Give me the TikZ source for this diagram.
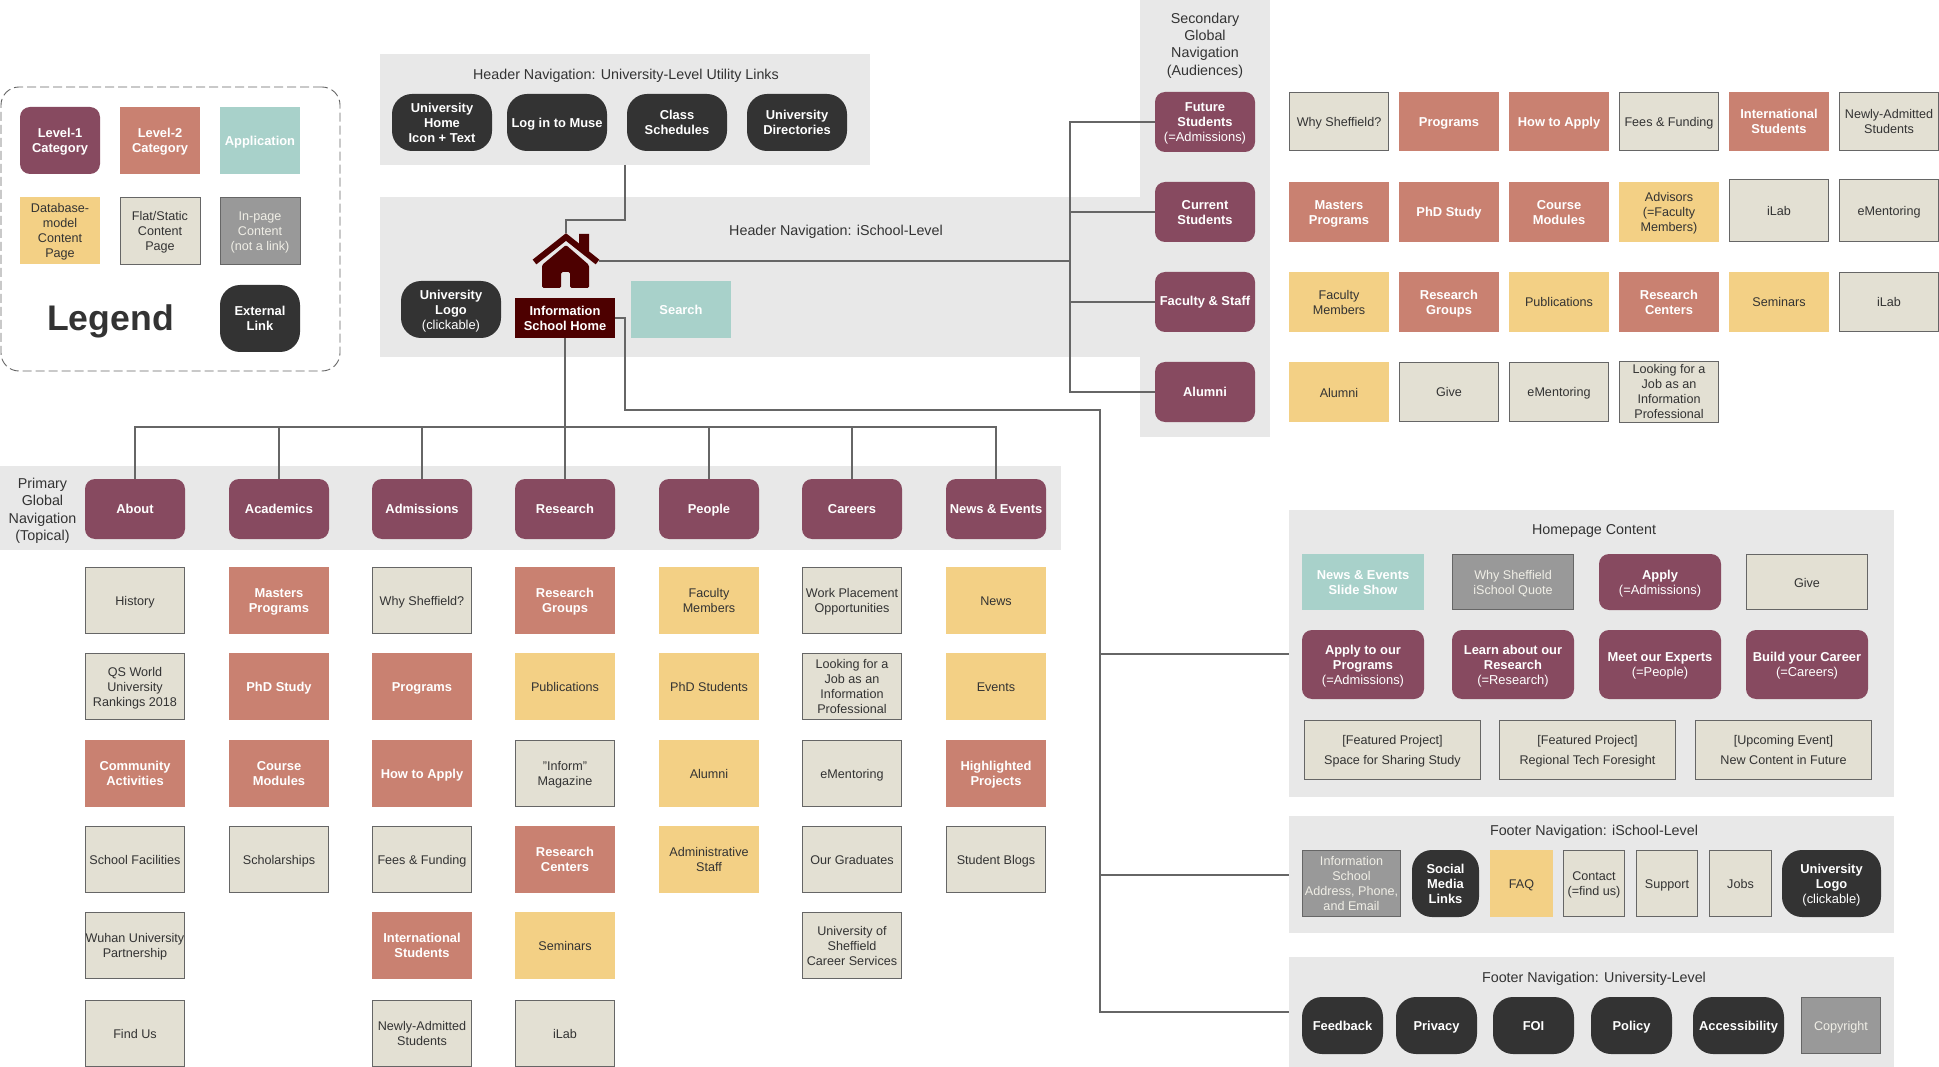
\documentclass[tikz,border=0pt]{standalone}
\usepackage{fontspec}
\setmainfont{Liberation Sans}
\definecolor{cLone}{HTML}{874A60}
\definecolor{cLtwo}{HTML}{C98171}
\definecolor{cApp}{HTML}{A8D1CA}
\definecolor{cDb}{HTML}{F3D085}
\definecolor{cFlat}{HTML}{E3E0D3}
\definecolor{cGrey}{HTML}{999999}
\definecolor{cDark}{HTML}{333333}
\definecolor{cPanel}{HTML}{E8E8E8}
\definecolor{cLine}{HTML}{666666}
\definecolor{cHome}{HTML}{4D0000}
\definecolor{cGreyText}{HTML}{F0EEE6}
\newif\ifmultiline
\def\singleh{13pt}
\tikzset{
  base/.style={inner sep=0pt,outer sep=0pt,align=center,font=\fontsize{12.6}{15}\selectfont,
    execute at begin node={\rule{0pt}{\singleh}},execute at end node={\rule[-3pt]{0pt}{3pt}}},
  panel/.style={base,fill=cPanel},
  lvlone/.style={base,fill=cLone,rounded corners=10pt,text=white,font=\fontsize{12.9}{15}\selectfont\bfseries,/utils/exec={\def\singleh{11pt}}},
  lvltwo/.style={base,fill=cLtwo,text=white,font=\fontsize{12.9}{15}\selectfont\bfseries},
  appn/.style={base,fill=cApp,text=white,font=\fontsize{12.9}{15}\selectfont\bfseries},
  dbm/.style={base,fill=cDb,text=cDark},
  flat/.style={base,fill=cFlat,draw=cLine,line width=0.9pt,text=cDark},
  inpage/.style={base,fill=cGrey,draw=cLine,line width=0.9pt,text=cGreyText},
  ext/.style={base,fill=cDark,rounded corners=20pt,text=white,font=\fontsize{12.9}{15}\selectfont\bfseries},
  homebox/.style={base,fill=cHome,text=white,font=\fontsize{12.9}{15}\selectfont\bfseries},
  title/.style={inner sep=0pt,outer sep=0pt,align=center,text=cDark,font=\fontsize{14.3}{17.4}\selectfont},
  conn/.style={draw=cLine,line width=2pt},
}
% name, style, x1, y1, x2, y2, text
\makeatletter
\newcommand{\bx}[7]{\in@{\\}{#7}\ifin@\global\multilinetrue\else\global\multilinefalse\fi
  \node[#2,minimum width={(#5-#3)*1pt},minimum height={(#6-#4)*1pt}] (#1) at ({(#3+#5)/2},{(#4+#6)/2}) {\ifmultiline\rule{0pt}{12.4pt}\fi #7};}
\makeatother
\newcommand{\md}[1]{{\mdseries #1}}
\begin{document}
\begin{tikzpicture}[x=1pt,y=-1pt]
\useasboundingbox (0,0) rectangle (1939,1067);
% panels
\bx{pUtil}{panel}{380}{54}{870}{165}{}
\bx{pSchool}{panel}{380}{197}{1140}{357}{}
\bx{pSec}{panel}{1140}{0}{1270}{437}{}
\bx{pPrim}{panel}{0}{466}{1061}{550}{}
\bx{pHome}{panel}{1289}{510}{1894}{797}{}
\bx{pFootS}{panel}{1289}{816}{1894}{933}{}
\bx{pFootU}{panel}{1289}{957}{1894}{1067}{}
% legend
\node[draw=cLine,dash pattern=on 9pt off 4pt,line width=0.9pt,rounded corners=18pt,minimum width=339pt,minimum height=284pt,inner sep=0pt] (legendbox) at (170.5,229) {};
\bx{lgA}{lvlone}{20}{107}{100}{174}{Level-1\\Category}
\bx{lgB}{lvltwo}{120}{107}{200}{174}{Level-2\\Category}
\bx{lgC}{appn}{220}{107}{300}{174}{Application}
\bx{lgD}{dbm}{20}{197}{100}{264}{Database-\\model\\Content\\Page}
\bx{lgE}{flat}{120}{197}{200}{264}{Flat/Static\\Content\\Page}
\bx{lgF}{inpage}{220}{197}{300}{264}{In-page\\Content\\(not a link)}
\bx{lgG}{ext}{220}{285}{300}{352}{External\\Link}
\node[inner sep=0pt,text=cDark,font=\fontsize{35.6}{40}\selectfont\bfseries] (legendtitle) at (110.5,321.5) {Legend};
% header utility
\node[title] (tUtil) at (626,75.5) {Header Navigation: University-Level Utility Links};
\bx{uHome}{ext}{392}{94}{492}{151}{University\\Home\\Icon + Text}
\bx{uMuse}{ext}{507}{94}{607}{151}{Log in to Muse}
\bx{uClass}{ext}{627}{94}{727}{151}{Class\\Schedules}
\bx{uDir}{ext}{747}{94}{847}{151}{University\\Directories}
% header school
\node[title] (tSchool) at (836,231.5) {Header Navigation: iSchool-Level};
\bx{sLogo}{ext}{401}{281}{501}{338}{University\\Logo\\\md{(clickable)}}
\bx{sHome}{homebox}{515}{298}{615}{338}{Information\\School Home}
\bx{sSearch}{appn}{631}{281}{731}{338}{Search}
% house
\fill[cHome] (579,234) -- (589,234) -- (589,256) -- (579,248) -- cycle;
\fill[cHome,rounded corners=1.5pt] (566,245) -- (589,265) -- (589,288) -- (570,288) -- (570,272) -- (561,272) -- (561,288) -- (542,288) -- (542,265) -- cycle;
\draw[cHome,line width=6pt,miter limit=4] (534.5,262) -- (566,237) -- (597.5,262);
\coordinate (housetop) at (566,233);
\coordinate (houseeave) at (599,261);
% secondary
\node[title] (tSec) at (1205,45.5) {Secondary\\Global\\Navigation\\(Audiences)};
\bx{future}{lvlone}{1155}{92}{1255}{152}{Future\\Students\\\md{(=Admissions)}}
\bx{current}{lvlone}{1155}{182}{1255}{242}{Current\\Students}
\bx{faculty}{lvlone}{1155}{272}{1255}{332}{Faculty \& Staff}
\bx{alumni}{lvlone}{1155}{362}{1255}{422}{Alumni}
% secondary grid
\bx{a1}{flat}{1289.5}{92.5}{1388.5}{150.5}{Why Sheffield?}
\bx{a2}{lvltwo}{1399}{92}{1499}{151}{Programs}
\bx{a3}{lvltwo}{1509}{92}{1609}{151}{How to Apply}
\bx{a4}{flat}{1619.5}{92.5}{1718.5}{150.5}{Fees \& Funding}
\bx{a5}{lvltwo}{1729}{92}{1829}{151}{International\\Students}
\bx{a6}{flat}{1839.5}{92.5}{1938.5}{150.5}{Newly-Admitted\\Students}
\bx{b1}{lvltwo}{1289}{182}{1389}{242}{Masters\\Programs}
\bx{b2}{lvltwo}{1399}{182}{1499}{242}{PhD Study}
\bx{b3}{lvltwo}{1509}{182}{1609}{242}{Course\\Modules}
\bx{b4}{dbm}{1619}{182}{1719}{242}{Advisors\\(=Faculty\\Members)}
\bx{b5}{flat}{1729.5}{179.5}{1828.5}{241}{iLab}
\bx{b6}{flat}{1839.5}{179.5}{1938.5}{241}{eMentoring}
\bx{c1}{dbm}{1289}{272}{1389}{332}{Faculty\\Members}
\bx{c2}{lvltwo}{1399}{272}{1499}{332}{Research\\Groups}
\bx{c3}{dbm}{1509}{272}{1609}{332}{Publications}
\bx{c4}{lvltwo}{1619}{272}{1719}{332}{Research\\Centers}
\bx{c5}{dbm}{1729}{272}{1829}{332}{Seminars}
\bx{c6}{flat}{1839.5}{272.5}{1938.5}{331}{iLab}
\bx{d1}{dbm}{1289}{362}{1389}{422}{Alumni}
\bx{d2}{flat}{1399.5}{362.5}{1498.5}{421}{Give}
\bx{d3}{flat}{1509.5}{362.5}{1608.5}{421}{eMentoring}
\bx{d4}{flat}{1619.5}{362.5}{1718.5}{421}{Looking for a\\Job as an\\Information\\Professional}
% primary
\node[title] (tPrim) at (42.5,511) {Primary\\Global\\Navigation\\(Topical)};
\bx{about}{lvlone}{85}{479}{185}{539}{About}
\bx{academics}{lvlone}{229}{479}{329}{539}{Academics}
\bx{admissions}{lvlone}{372}{479}{472}{539}{Admissions}
\bx{research}{lvlone}{515}{479}{615}{539}{Research}
\bx{people}{lvlone}{659}{479}{759}{539}{People}
\bx{careers}{lvlone}{802}{479}{902}{539}{Careers}
\bx{news}{lvlone}{946}{479}{1046}{539}{News \& Events}
% column 1
\bx{k11}{flat}{85.5}{567.5}{184.5}{633.5}{History}
\bx{k12}{flat}{85.5}{653.5}{184.5}{719.5}{QS World\\University\\Rankings 2018}
\bx{k13}{lvltwo}{85}{740}{185}{807}{Community\\Activities}
\bx{k14}{flat}{85.5}{826.5}{184.5}{892.5}{School Facilities}
\bx{k15}{flat}{85.5}{912.5}{184.5}{978.5}{Wuhan University\\Partnership}
\bx{k16}{flat}{85.5}{1000.5}{184.5}{1066.5}{Find Us}
% column 2
\bx{k21}{lvltwo}{229}{567}{329}{634}{Masters\\Programs}
\bx{k22}{lvltwo}{229}{653}{329}{720}{PhD Study}
\bx{k23}{lvltwo}{229}{740}{329}{807}{Course\\Modules}
\bx{k24}{flat}{229.5}{826.5}{328.5}{892.5}{Scholarships}
% column 3
\bx{k31}{flat}{372.5}{567.5}{471.5}{633.5}{Why Sheffield?}
\bx{k32}{lvltwo}{372}{653}{472}{720}{Programs}
\bx{k33}{lvltwo}{372}{740}{472}{807}{How to Apply}
\bx{k34}{flat}{372.5}{826.5}{471.5}{892.5}{Fees \& Funding}
\bx{k35}{lvltwo}{372}{912}{472}{979}{International\\Students}
\bx{k36}{flat}{372.5}{1000.5}{471.5}{1066.5}{Newly-Admitted\\Students}
% column 4
\bx{k41}{lvltwo}{515}{567}{615}{634}{Research\\Groups}
\bx{k42}{dbm}{515}{653}{615}{720}{Publications}
\bx{k43}{flat}{515.5}{740.5}{614.5}{806.5}{"Inform"\\Magazine}
\bx{k44}{lvltwo}{515}{826}{615}{893}{Research\\Centers}
\bx{k45}{dbm}{515}{912}{615}{979}{Seminars}
\bx{k46}{flat}{515.5}{1000.5}{614.5}{1066.5}{iLab}
% column 5
\bx{k51}{dbm}{659}{567}{759}{634}{Faculty\\Members}
\bx{k52}{dbm}{659}{653}{759}{720}{PhD Students}
\bx{k53}{dbm}{659}{740}{759}{807}{Alumni}
\bx{k54}{dbm}{659}{826}{759}{893}{Administrative\\Staff}
% column 6
\bx{k61}{flat}{802.5}{567.5}{901.5}{633.5}{Work Placement\\Opportunities}
\bx{k62}{flat}{802.5}{653.5}{901.5}{719.5}{Looking for a\\Job as an\\Information\\Professional}
\bx{k63}{flat}{802.5}{740.5}{901.5}{806.5}{eMentoring}
\bx{k64}{flat}{802.5}{826.5}{901.5}{892.5}{Our Graduates}
\bx{k65}{flat}{802.5}{912.5}{901.5}{978.5}{University of\\Sheffield\\Career Services}
% column 7
\bx{k71}{dbm}{946}{567}{1046}{634}{News}
\bx{k72}{dbm}{946}{653}{1046}{720}{Events}
\bx{k73}{lvltwo}{946}{740}{1046}{807}{Highlighted\\Projects}
\bx{k74}{flat}{946.5}{826.5}{1045.5}{892.5}{Student Blogs}
% homepage content
\node[title] (tHome) at (1594,531) {Homepage Content};
\bx{h1}{appn}{1302}{554}{1424}{610}{News \& Events\\Slide Show}
\bx{h2}{inpage}{1452.5}{554.5}{1573.5}{609.5}{Why Sheffield\\iSchool Quote}
\bx{h3}{lvlone}{1599}{554}{1721}{610}{Apply\\\md{(=Admissions)}}
\bx{h4}{flat}{1746.5}{554.5}{1867.5}{609.5}{Give}
\bx{h5}{lvlone}{1302}{630}{1424}{699}{Apply to our\\Programs\\\md{(=Admissions)}}
\bx{h6}{lvlone}{1452}{630}{1574}{699}{Learn about our\\Research\\\md{(=Research)}}
\bx{h7}{lvlone}{1599}{630}{1721}{699}{Meet our Experts\\\md{(=People)}}
\bx{h8}{lvlone}{1746}{630}{1868}{699}{Build your Career\\\md{(=Careers)}}
\bx{h9}{flat}{1304.5}{720.5}{1480.5}{779.5}{[Featured Project]\\[5pt]Space for Sharing Study}
\bx{h10}{flat}{1499.5}{720.5}{1675.5}{779.5}{[Featured Project]\\[5pt]Regional Tech Foresight}
\bx{h11}{flat}{1695.5}{720.5}{1871.5}{779.5}{[Upcoming Event]\\[5pt]New Content in Future}
% footer school
\node[title] (tFootS) at (1594,832) {Footer Navigation: iSchool-Level};
\bx{f1}{inpage}{1302.5}{850.5}{1400.5}{916.5}{Information\\School\\Address, Phone,\\and Email}
\bx{f2}{ext}{1412}{850}{1479}{917}{Social\\Media\\Links}
\bx{f3}{dbm}{1490}{850}{1553}{917}{FAQ}
\bx{f4}{flat}{1563.5}{850.5}{1624.5}{916.5}{Contact\\(=find us)}
\bx{f5}{flat}{1636.5}{850.5}{1697.5}{916.5}{Support}
\bx{f6}{flat}{1709.5}{850.5}{1771.5}{916.5}{Jobs}
\bx{f7}{ext}{1782}{850}{1881}{917}{University\\Logo\\\md{(clickable)}}
% footer university
\node[title] (tFootU) at (1594,979) {Footer Navigation: University-Level};
\bx{g1}{ext}{1302}{997}{1383}{1054}{Feedback}
\bx{g2}{ext}{1396}{997}{1477}{1054}{Privacy}
\bx{g3}{ext}{1493}{997}{1574}{1054}{FOI}
\bx{g4}{ext}{1591}{997}{1672}{1054}{Policy}
\bx{g5}{ext}{1693}{997}{1784}{1054}{Accessibility}
\bx{g6}{inpage}{1801.5}{997.5}{1880.5}{1053.5}{Copyright}
% connectors
\coordinate (bendA) at (625,220);
\draw[conn] (pUtil.south -| bendA) -- (bendA) -- (housetop |- bendA) -- (housetop);
\coordinate (busR) at (1070,261);
\draw[conn] (houseeave) -- (busR);
\draw[conn] (future.west) -- (future.west -| busR) -- (alumni.west -| busR) -- (alumni.west);
\draw[conn] (current.west) -- (current.west -| busR);
\draw[conn] (faculty.west) -- (faculty.west -| busR);
\coordinate (busT) at (565,427);
\draw[conn] (sHome.south) -- (research.north);
\draw[conn] (about.north) -- (about.north |- busT) -- (news.north |- busT) -- (news.north);
\draw[conn] (academics.north) -- (academics.north |- busT);
\draw[conn] (admissions.north) -- (admissions.north |- busT);
\draw[conn] (people.north) -- (people.north |- busT);
\draw[conn] (careers.north) -- (careers.north |- busT);
\coordinate (bendB) at (625,410);
\coordinate (busF) at (1100,410);
\draw[conn] (sHome.east) -- (sHome.east -| bendB) -- (bendB) -- (busF) -- (pFootU.west -| busF) -- (pFootU.west);
\draw[conn] (pHome.west -| busF) -- (pHome.west);
\draw[conn] (pFootS.west -| busF) -- (pFootS.west);
\end{tikzpicture}
\end{document}
